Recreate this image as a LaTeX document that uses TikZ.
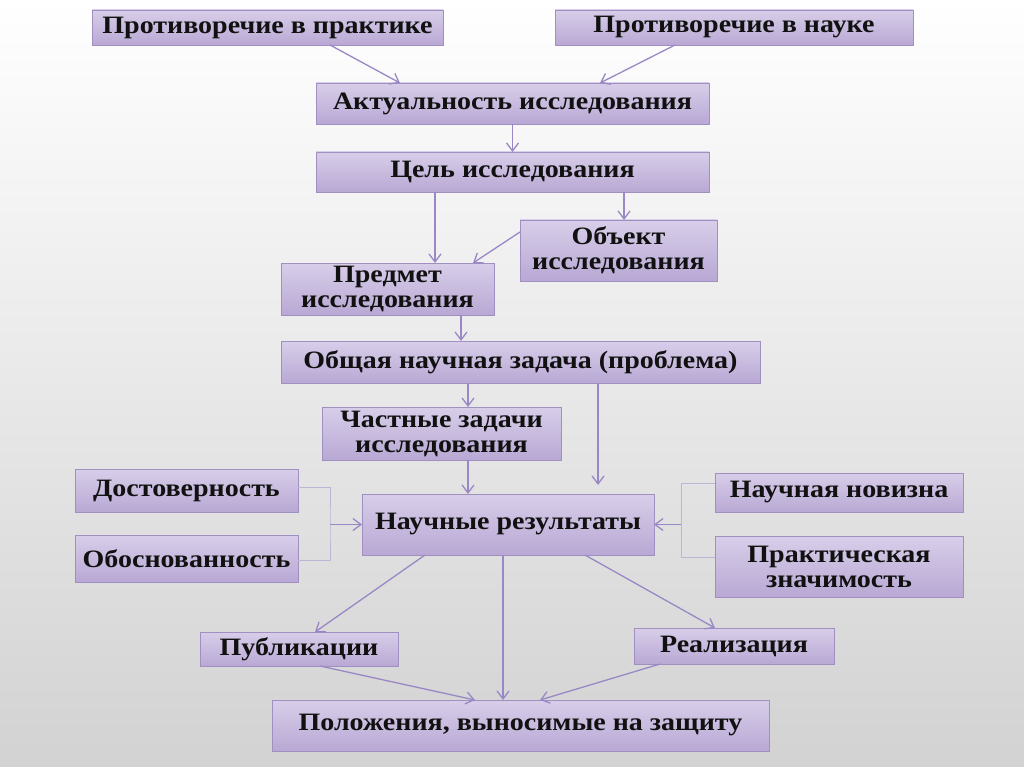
\documentclass[tikz,border=0pt]{standalone}
\usepackage{fontspec}
\setmainfont[FakeStretch=1.12]{Liberation Serif}
\usetikzlibrary{arrows.meta,calc}
\definecolor{boxtop}{HTML}{D8CEE9}
\definecolor{boxbot}{HTML}{B8A8D4}
\definecolor{boxline}{HTML}{A090C2}
\definecolor{arrowc}{HTML}{9A88C6}
\definecolor{bracec}{HTML}{BFB4D3}
\definecolor{bgmid}{HTML}{F4F4F4}
\definecolor{bgbot}{HTML}{D2D2D2}
\definecolor{inkc}{HTML}{111111}

\begin{document}
\begin{tikzpicture}[x=1pt,y=-1pt,
  font=\fontsize{25}{25}\selectfont\bfseries,
  blk/.style={draw=boxline, line width=0.8pt, top color=boxtop, bottom color=boxbot,
              text=inkc, align=center, inner sep=1pt, outer sep=0pt},
  conn/.style={draw=arrowc, line width=1.3pt, -{Straight Barb[length=8pt,width=12pt]}},
  bracket/.style={draw=bracec, line width=0.9pt}]
\shade[top color=white, middle color=bgmid, bottom color=bgbot] (0,0) rectangle (1024,767);
\useasboundingbox (0,0) rectangle (1024,767);
% top row
\node[blk, minimum width=351, minimum height=35] (prak)  at (267.5,27.5) {Противоречие в практике};
\node[blk, minimum width=358, minimum height=35] (nauka) at (734,27.5)   {Противоречие в науке};
\node[blk, minimum width=393, minimum height=41] (akt)   at (512.5,103.5) {Актуальность исследования};
\node[blk, minimum width=393, minimum height=40] (cel)   at (512.5,172)  {Цель исследования};
\node[blk, minimum width=197, minimum height=61] (obj)   at (618.5,250.5) {Объект\\исследования};
\node[blk, minimum width=213, minimum height=52] (pred)  at (387.5,289)  {Предмет\\исследования};
\node[blk, minimum width=479, minimum height=42] (obsh)  at (520.5,362)  {Общая научная задача (проблема)};
\node[blk, minimum width=239, minimum height=53] (chast) at (441.5,433.5) {Частные задачи\\исследования};
% results and its sides
\node[blk, minimum width=223, minimum height=43] (dost)  at (186.5,490.5) {Достоверность};
\node[blk, minimum width=223, minimum height=47] (obosn) at (186.5,558.5) {Обоснованность};
\node[blk, minimum width=292, minimum height=61] (res)   at (508,524.5)  {Научные результаты};
\node[blk, minimum width=248, minimum height=39] (nov)   at (839,492.5)  {Научная новизна};
\node[blk, minimum width=248, minimum height=61] (prakt) at (839,566.5)  {Практическая\\значимость};
% bottom
\node[blk, minimum width=198, minimum height=34] (publ)  at (299,649)    {Публикации};
\node[blk, minimum width=200, minimum height=36] (real)  at (734,646)    {Реализация};
\node[blk, minimum width=497, minimum height=51] (pol)   at (520.5,725.5) {Положения, выносимые на защиту};
\coordinate (lj) at ($(res.west)+(-32,0)$);
\coordinate (rj) at ($(res.east)+(27,0)$);
% connectors
\draw[conn] ([xshift=62.5]prak.south) -- ([xshift=-112.5]akt.north);
\draw[conn] ([xshift=-59]nauka.south) -- ([xshift=87.5]akt.north);
\draw[conn] (akt.south) -- (cel.north);
\draw[conn] ([xshift=-77.5]cel.south) -- ([xshift=47.5]pred.north);
\draw[conn] ([xshift=111.5]cel.south) -- ([xshift=5.5]obj.north);
\draw[conn] ([yshift=18.5]obj.west) -- ([xshift=-21]pred.north east);
\draw[conn] ([xshift=73.5]pred.south) -- ([xshift=-59.5]obsh.north);
\draw[conn] ([xshift=-52.5]obsh.south) -- ([xshift=26.5]chast.north);
\draw[conn, shorten >=9pt] ([xshift=77.5]obsh.south) -- ([xshift=90]res.north);
\draw[conn] ([xshift=26.5]chast.south) -- ([xshift=-40]res.north);
\draw[bracket] ([yshift=3.5]dost.east) -| (lj) |- ([yshift=-1.5]obosn.east);
\draw[conn] (lj) -- (res.west);
\draw[bracket] ([yshift=9.5]nov.west) -| (rj) |- ([yshift=9.5]prakt.west);
\draw[conn] (rj) -- (res.east);
\draw[conn] ([xshift=-83]res.south) -- ([xshift=16]publ.north);
\draw[conn] ([xshift=-5]res.south) -- ([xshift=-17.5]pol.north);
\draw[conn] ([xshift=77]res.south) -- ([xshift=-19]real.north);
\draw[conn] ([xshift=21]publ.south) -- ([xshift=-45.5]pol.north);
\draw[conn] ([xshift=-74]real.south) -- ([xshift=19.5]pol.north);
\end{tikzpicture}
\end{document}
